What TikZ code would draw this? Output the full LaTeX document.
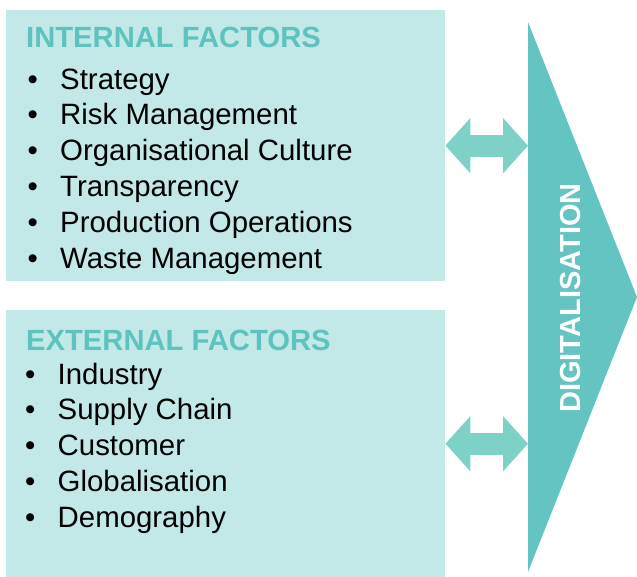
\documentclass[tikz,border=0pt]{standalone}
\usepackage{fontspec}
\setmainfont{Liberation Sans}
\usetikzlibrary{arrows.meta,positioning}

\definecolor{boxfill}{HTML}{C2E8E7}
\definecolor{headcol}{HTML}{5EC3BF}
\definecolor{digicol}{HTML}{63C4C2}
\definecolor{linkcol}{HTML}{7DD1C7}
\newcommand{\bul}{\makebox[32.5pt][l]{\textbullet}}

\begin{document}
\begin{tikzpicture}[x=1pt,y=-1pt,
  box/.style={fill=boxfill,inner sep=0pt,anchor=north west,minimum width=439pt},
  heading/.style={font=\fontsize{29.2}{29.2}\selectfont\bfseries,text=headcol,
    text height=21pt,text depth=6pt,inner sep=0pt},
  item/.style={font=\fontsize{29.4}{29.4}\selectfont,text height=21pt,text depth=6pt,inner sep=0pt},
  digitext/.style={font=\fontsize{29}{29}\selectfont\bfseries,text=white,rotate=90,
    text height=20.5pt,text depth=0pt,inner sep=0pt},
  link/.style={line width=22pt,draw=linkcol,{Triangle[width=54pt,length=25pt]}-{Triangle[width=54pt,length=25pt]}}]
  \useasboundingbox (0,0) rectangle (637,577);

  % the two factor boxes
  \node[box,minimum height=271pt] (int) at (6,10) {};
  \node[box,minimum height=267pt] (ext) at (6,310) {};

  \node[heading,below right=16pt and 20pt of int.north west] (inthead) {INTERNAL FACTORS};
  \node[item,below right=14.5pt and 1.5pt of inthead.south west] (strategy) {\bul Strategy};
  \node[item,below right=8.5pt and 0pt of strategy.south west]   (risk)     {\bul Risk Management};
  \node[item,below right=8.5pt and 0pt of risk.south west]       (culture)  {\bul Organisational Culture};
  \node[item,below right=8.5pt and 0pt of culture.south west]    (transp)   {\bul Transparency};
  \node[item,below right=8.5pt and 0pt of transp.south west]     (prodops)  {\bul Production Operations};
  \node[item,below right=8.5pt and 0pt of prodops.south west]    (waste)    {\bul Waste Management};

  \node[heading,below right=19pt and 20pt of ext.north west] (exthead) {EXTERNAL FACTORS};
  \node[item,below right=6.5pt and -1pt of exthead.south west] (industry) {\bul Industry};
  \node[item,below right=8.4pt and 0pt of industry.south west] (supply)   {\bul Supply Chain};
  \node[item,below right=8.4pt and 0pt of supply.south west]   (customer) {\bul Customer};
  \node[item,below right=8.4pt and 0pt of customer.south west] (global)   {\bul Globalisation};
  \node[item,below right=8.4pt and 0pt of global.south west]   (demo)     {\bul Demography};

  % the big arrow
  \coordinate (dtop) at (528,22);
  \coordinate (dtip) at (637,297);
  \coordinate (dbot) at (528,572);
  \fill[digicol] (dtop) -- (dtip) -- (dbot) -- cycle;
  \node[digitext] (digi) at (570,298) {DIGITALISATION};

  \draw[link] (int.east) -- (int.east -| dtop);
  \draw[link] (ext.east) -- (ext.east -| dtop);
\end{tikzpicture}
\end{document}
